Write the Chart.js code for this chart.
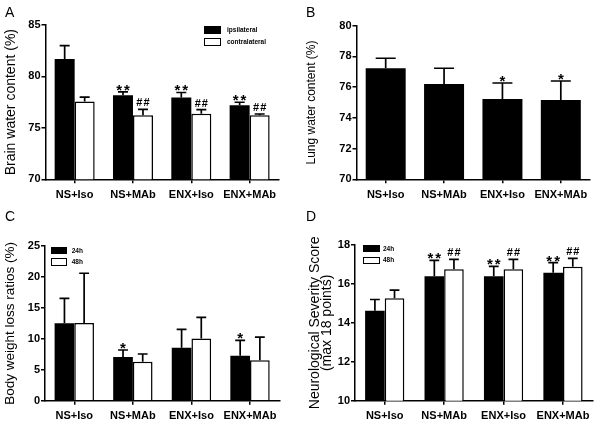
<!DOCTYPE html>
<html><head><meta charset="utf-8">
<script src="https://cdn.jsdelivr.net/npm/chart.js@4"></script>
<style>
body{margin:0;width:600px;height:426px;background:#fff;position:relative;overflow:hidden;font-family:"Liberation Sans",Arial,sans-serif}
canvas{position:absolute}
.letter{position:absolute;font-size:14px;line-height:14px;color:#000}
.leg{position:absolute;font-weight:bold;font-size:6.5px;line-height:8px;color:#000;white-space:nowrap}
.box{position:absolute;box-sizing:border-box;height:8px;width:17px}
.blk{background:#000}
.wht{background:#fff;border:1.5px solid #000}
</style></head><body>
<canvas id="cA" width="300" height="213" style="left:0;top:0"></canvas>
<canvas id="cB" width="300" height="213" style="left:300px;top:0"></canvas>
<canvas id="cC" width="300" height="213" style="left:0;top:213px"></canvas>
<canvas id="cD" width="300" height="213" style="left:300px;top:213px"></canvas>

<div class="letter" style="left:5px;top:5px">A</div>
<div class="letter" style="left:306px;top:5px">B</div>
<div class="letter" style="left:5px;top:209px">C</div>
<div class="letter" style="left:306px;top:209px">D</div>

<div class="box blk" style="left:204px;top:26px"></div>
<div class="box wht" style="left:204px;top:38.3px"></div>
<div class="leg" style="left:227px;top:26px">ipsilateral</div>
<div class="leg" style="left:227px;top:38px">contralateral</div>

<div class="box blk" style="left:50.7px;top:246.7px;height:7.6px;width:16.6px"></div>
<div class="box wht" style="left:50.7px;top:258.3px;height:7.6px;width:16.6px"></div>
<div class="leg" style="left:71.7px;top:246.5px">24h</div>
<div class="leg" style="left:71.7px;top:258px">48h</div>

<div class="box blk" style="left:363.3px;top:245px;height:7.4px;width:16.7px"></div>
<div class="box wht" style="left:363.3px;top:256.7px;height:7.4px;width:16.7px"></div>
<div class="leg" style="left:383px;top:244.7px">24h</div>
<div class="leg" style="left:383px;top:256.4px">48h</div>

<script>
const categories = ['NS+Iso', 'NS+MAb', 'ENX+Iso', 'ENX+MAb'];

// Panel A: brain water content (%)
const brainIpsi = [81.7, 78.17, 77.94, 77.2];
const brainIpsiSem = [1.3, 0.32, 0.5, 0.29];
const brainContra = [77.57, 76.23, 76.38, 76.22];
const brainContraSem = [0.41, 0.57, 0.39, 0.13];
const brainIpsiMarks = ['', '**', '**', '**'];
const brainContraMarks = ['', '##', '##', '##'];
const ticksA = [70, 75, 80, 85];

// Panel B: lung water content (%)
const lung = [77.23, 76.21, 75.23, 75.16];
const lungSem = [0.65, 1.02, 1.04, 1.24];
const lungMarks = ['', '', '*', '*'];
const ticksB = [70, 72, 74, 76, 78, 80];

// Panel C: body weight loss ratios (%)
const bw24 = [12.5, 7.06, 8.56, 7.27];
const bw24Sem = [4.05, 1.13, 2.96, 2.48];
const bw48 = [12.55, 6.3, 10.07, 6.52];
const bw48Sem = [8.05, 1.25, 3.39, 3.77];
const bw24Marks = ['', '*', '', '*'];
const bw48Marks = ['', '', '', ''];
const ticksC = [0, 5, 10, 15, 20, 25];

// Panel D: neurological severity score
const nss24 = [14.62, 16.4, 16.4, 16.58];
const nss24Sem = [0.58, 0.81, 0.5, 0.51];
const nss48 = [15.26, 16.75, 16.75, 16.88];
const nss48Sem = [0.42, 0.51, 0.51, 0.43];
const nss24Marks = ['', '**', '**', '**'];
const nss48Marks = ['', '##', '##', '##'];
const ticksD = [10, 12, 14, 16, 18];

const F = '"Liberation Sans", Arial, sans-serif';

const errPlugin = {
  id: 'errbars',
  afterDatasetsDraw(chart) {
    const ctx = chart.ctx, ys = chart.scales.y;
    chart.data.datasets.forEach((ds, i) => {
      const meta = chart.getDatasetMeta(i);
      meta.data.forEach((bar, j) => {
        const top = ys.getPixelForValue(ds.data[j] + ds.sem[j]);
        const x = bar.x, hw = bar.width / 4;
        ctx.save();
        ctx.strokeStyle = '#000';
        ctx.lineWidth = 1.7;
        ctx.beginPath();
        ctx.moveTo(x, bar.y);
        ctx.lineTo(x, top);
        ctx.moveTo(x - hw, top);
        ctx.lineTo(x + hw, top);
        ctx.stroke();
        const m = ds.marks ? ds.marks[j] : '';
        if (m) {
          ctx.fillStyle = '#000';
          ctx.textAlign = 'center';
          ctx.textBaseline = 'alphabetic';
          const star = m[0] === '*';
          ctx.font = star ? 'bold 15px ' + F : 'bold 11px ' + F;
          const sp = star ? 7.8 : 7.2;
          const yb = star ? top + 3 : top - 3;
          for (let k = 0; k < m.length; k++) {
            ctx.fillText(m[k], x + (k - (m.length - 1) / 2) * sp, yb);
          }
        }
        ctx.restore();
      });
    });
  }
};

function makeChart(id, datasets, o) {
  return new Chart(document.getElementById(id), {
    type: 'bar',
    data: { labels: categories, datasets },
    options: {
      responsive: false, animation: false, devicePixelRatio: 1,
      layout: { padding: { left: 0, top: o.top, right: o.right, bottom: 0 } },
      plugins: { legend: { display: false }, tooltip: { enabled: false } },
      scales: {
        x: {
          grid: { display: true, drawOnChartArea: false, offset: false, color: '#000', lineWidth: 1.5, tickLength: 4 },
          border: { color: '#000', width: 1.5 },
          ticks: { color: '#000', font: { family: F, size: 11, weight: 'bold' }, padding: 5, maxRotation: 0, autoSkip: false },
          afterFit: s => { s.height = o.xh; }
        },
        y: {
          min: o.ticks[0], max: o.ticks[o.ticks.length - 1],
          grid: { display: true, drawOnChartArea: false, color: '#000', lineWidth: 1.5, tickLength: 4 },
          border: { color: '#000', width: 1.5 },
          ticks: { stepSize: o.ticks[1] - o.ticks[0], color: '#000', font: { family: F, size: 11, weight: 'bold' }, padding: 1 },
          title: { display: true, text: o.title, color: '#000', font: { family: F, size: o.tsize, lineHeight: o.tlh }, padding: { top: o.tpad, bottom: 0 } },
          afterFit: s => { s.width = o.left; }
        }
      }
    },
    plugins: [errPlugin]
  });
}

function ds(data, sem, marks, white, cp) {
  return {
    data, sem, marks,
    backgroundColor: white ? '#fff' : '#000',
    borderColor: '#000',
    borderWidth: white ? 1.5 : 0,
    borderSkipped: 'bottom',
    categoryPercentage: cp, barPercentage: 1
  };
}

makeChart('cA', [ds(brainIpsi, brainIpsiSem, brainIpsiMarks, false, 0.686), ds(brainContra, brainContraSem, brainContraMarks, true, 0.686)],
  { top: 25, right: 21.2, left: 45.5, xh: 33.7, ticks: ticksA, title: 'Brain water content (%)', tsize: 14, tlh: 1.2, tpad: 3 });
makeChart('cB', [ds(lung, lungSem, lungMarks, false, 0.685)],
  { top: 25.7, right: 10, left: 56.5, xh: 33.7, ticks: ticksB, title: 'Lung water content (%)', tsize: 12, tlh: 1.2, tpad: 4 });
makeChart('cC', [ds(bw24, bw24Sem, bw24Marks, false, 0.672), ds(bw48, bw48Sem, bw48Marks, true, 0.672)],
  { top: 33, right: 20.7, left: 45, xh: 25.3, ticks: ticksC, title: 'Body weight loss ratios (%)', tsize: 13.5, tlh: 1.2, tpad: 2 });
makeChart('cD', [ds(nss24, nss24Sem, nss24Marks, false, 0.66), ds(nss48, nss48Sem, nss48Marks, true, 0.66)],
  { top: 32, right: 7.3, left: 55, xh: 25.3, ticks: ticksD, title: ['Neurological Severity Score', '(max 18 points)'], tsize: 14, tlh: '12px', tpad: 9 });
</script>
</body></html>
